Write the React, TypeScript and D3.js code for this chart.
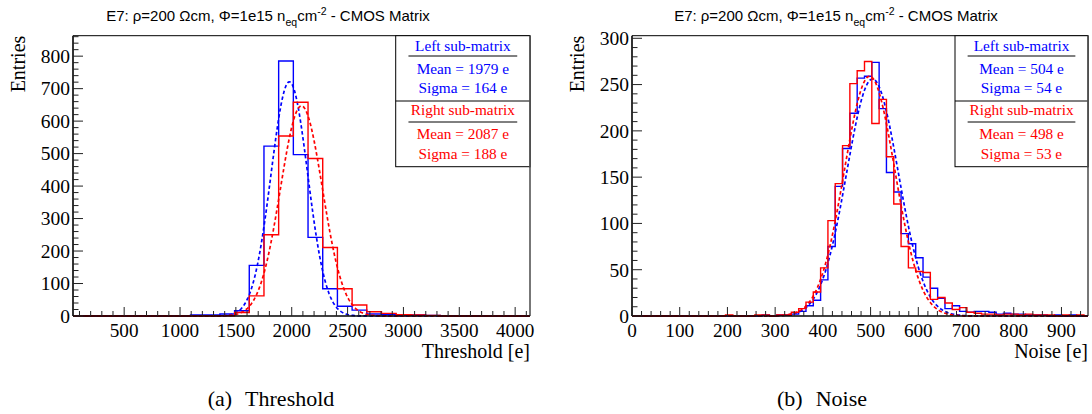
import React from "react";
import * as d3 from "d3";

// ---------- Threshold panel data ----------
const THR_BIN_START = 42;
const THR_BIN_WIDTH = 131.5;
const THR_LEFT_COUNTS = [0, 0, 0, 0, 0, 0, 0, 0, 3, 3, 6, 16, 156, 523, 785, 497, 242, 84, 30, 18, 6, 5, 3, 3, 2, 0, 0, 0, 0, 0, 0];
const THR_RIGHT_COUNTS = [0, 0, 0, 0, 0, 0, 0, 0, 0, 0, 1, 11, 62, 250, 554, 658, 485, 211, 84, 34, 13, 8, 4, 3, 2, 0, 0, 0, 0, 0, 0];
const THR_X_DOMAIN = [42, 4133];
const THR_Y_MAX = 863;
const THR_X_MAJOR = [500, 1000, 1500, 2000, 2500, 3000, 3500, 4000];
const THR_Y_MAJOR = [0, 100, 200, 300, 400, 500, 600, 700, 800];
const THR_FIT_LEFT = { amp: 721, mean: 1979, sigma: 164 };
const THR_FIT_RIGHT = { amp: 647, mean: 2087, sigma: 188 };
const THR_LEGEND = ["Left sub-matrix", "Mean = 1979 e", "Sigma = 164 e", "Right sub-matrix", "Mean = 2087 e", "Sigma = 188 e"];

// ---------- Noise panel data ----------
const NOISE_BIN_START = -3.33;
const NOISE_BIN_WIDTH = 15.33;
const NOISE_LEFT_COUNTS = [
  0, 0, 0, 0, 0, 0, 0, 0, 0, 0, 0, 0, 0, 0, 0, 0, 0, 0, 1, 0, 1, 1,
  2, 5, 11, 17, 39, 75, 140, 181, 219, 257, 259, 274, 224, 155, 134, 89, 78, 63, 42, 30,
  19, 8, 11, 5, 4, 5, 5, 4, 2, 3, 2, 2, 1, 1, 1, 0, 1, 0, 1, 0, 0,
];
const NOISE_RIGHT_COUNTS = [
  0, 0, 0, 0, 0, 0, 0, 0, 0, 0, 0, 0, 0, 1, 0, 0, 0, 1, 1, 0, 1, 1,
  4, 8, 15, 26, 52, 103, 143, 184, 251, 265, 275, 208, 234, 172, 121, 75, 52, 48, 47, 18,
  20, 14, 7, 9, 4, 3, 2, 2, 1, 2, 2, 1, 2, 1, 1, 1, 0, 1, 0, 1, 0,
];
const NOISE_X_DOMAIN = [0, 955.6];
const NOISE_Y_MAX = 302.8;
const NOISE_X_MAJOR = [0, 100, 200, 300, 400, 500, 600, 700, 800, 900];
const NOISE_Y_MAJOR = [0, 50, 100, 150, 200, 250, 300];
const NOISE_FIT_LEFT = { amp: 256, mean: 504, sigma: 54 };
const NOISE_FIT_RIGHT = { amp: 259, mean: 498, sigma: 53 };
const NOISE_LEGEND = ["Left sub-matrix", "Mean = 504 e", "Sigma = 54 e", "Right sub-matrix", "Mean = 498 e", "Sigma = 53 e"];

const BLUE = "#0000ff";
const RED = "#ff0000";
const SERIF = "'Liberation Serif', 'Times New Roman', serif";
const SANS = "'Liberation Sans', Arial, sans-serif";

type Fit = { amp: number; mean: number; sigma: number };

type PanelProps = {
  id: string;
  left: number;
  right: number;
  top: number;
  bottom: number;
  xDomain: number[];
  yMax: number;
  xMajor: number[];
  xMinorStep: number;
  yMajor: number[];
  yMinorStep: number;
  binStart: number;
  binWidth: number;
  leftCounts: number[];
  rightCounts: number[];
  fitLeft: Fit;
  fitRight: Fit;
  legend: string[];
  legendLeft: number;
  xTitle: string;
  titleX: number;
};

function Panel(p: PanelProps) {
  const x = d3.scaleLinear().domain(p.xDomain).range([p.left, p.right]);
  const y = d3.scaleLinear().domain([0, p.yMax]).range([p.bottom, p.top]);

  const stepPath = (counts: number[]) => {
    const pts: [number, number][] = [];
    pts.push([p.binStart, 0]);
    counts.forEach((c, i) => {
      const e0 = p.binStart + i * p.binWidth;
      const e1 = e0 + p.binWidth;
      pts.push([e0, c]);
      pts.push([e1, c]);
    });
    pts.push([p.binStart + counts.length * p.binWidth, 0]);
    return d3.line<[number, number]>().x((d) => x(d[0])).y((d) => y(d[1]))(pts) || "";
  };

  const fitPath = (f: Fit) => {
    const xs = d3.range(p.xDomain[0], p.xDomain[1], (p.xDomain[1] - p.xDomain[0]) / 600).concat([p.xDomain[1]]);
    return (
      d3
        .line<number>()
        .x((v) => x(v))
        .y((v) => y(f.amp * Math.exp(-0.5 * ((v - f.mean) / f.sigma) ** 2)))(xs) || ""
    );
  };

  const xMinor = d3
    .range(Math.ceil(p.xDomain[0] / p.xMinorStep) * p.xMinorStep, p.xDomain[1], p.xMinorStep)
    .filter((v) => !p.xMajor.some((m) => Math.abs(m - v) < 1e-6));
  const yMinor = d3
    .range(0, p.yMax, p.yMinorStep)
    .filter((v) => !p.yMajor.some((m) => Math.abs(m - v) < 1e-6));

  const lgL = p.legendLeft;
  const lgR = p.right;
  const lgC = (lgL + lgR) / 2;
  const lgW = lgR - lgL;
  const lineW = lgW * 0.81;

  return (
    <g>
      <defs>
        <clipPath id={`clip-${p.id}`}>
          <rect x={p.left} y={p.top} width={p.right - p.left} height={p.bottom - p.top + 2} />
        </clipPath>
      </defs>
      {/* histograms and fits */}
      <g clipPath={`url(#clip-${p.id})`}>
        <path d={stepPath(p.leftCounts)} fill="none" stroke={BLUE} strokeWidth={1.4} />
        <path d={fitPath(p.fitLeft)} fill="none" stroke={BLUE} strokeWidth={1.7} strokeDasharray="3.5,2.5" />
        <path d={stepPath(p.rightCounts)} fill="none" stroke={RED} strokeWidth={1.4} />
        <path d={fitPath(p.fitRight)} fill="none" stroke={RED} strokeWidth={1.7} strokeDasharray="3.5,2.5" />
      </g>
      {/* frame */}
      <line x1={p.left} x2={p.right} y1={p.top} y2={p.top} stroke="#000" strokeWidth={1} />
      <line x1={p.right} x2={p.right} y1={p.top} y2={p.bottom} stroke="#555" strokeWidth={1.6} />
      <line x1={p.left} x2={p.left} y1={p.top} y2={p.bottom} stroke="#000" strokeWidth={1.6} />
      <line x1={p.left} x2={p.right} y1={p.bottom} y2={p.bottom} stroke="#000" strokeWidth={1.6} />
      {/* y ticks */}
      {p.yMajor.map((v) => (
        <g key={`ym${v}`}>
          <line x1={p.left} x2={p.left + 10} y1={y(v)} y2={y(v)} stroke="#222" strokeWidth={1} />
          <text x={p.left - 3} y={y(v)} dy="0.35em" textAnchor="end" fontFamily={SERIF} fontSize={19.5} fill="#000">
            {v}
          </text>
        </g>
      ))}
      {yMinor.map((v) => (
        <line key={`yn${v}`} x1={p.left} x2={p.left + 5.5} y1={y(v)} y2={y(v)} stroke="#222" strokeWidth={1} />
      ))}
      {/* x ticks */}
      {p.xMajor.map((v) => (
        <g key={`xm${v}`}>
          <line x1={x(v)} x2={x(v)} y1={p.bottom} y2={p.bottom - 9} stroke="#222" strokeWidth={1} />
          <text x={x(v)} y={p.bottom + 21} textAnchor="middle" fontFamily={SERIF} fontSize={19.2} fill="#000">
            {v}
          </text>
        </g>
      ))}
      {xMinor.map((v) => (
        <line key={`xn${v}`} x1={x(v)} x2={x(v)} y1={p.bottom} y2={p.bottom - 5} stroke="#222" strokeWidth={1} />
      ))}
      {/* axis titles */}
      <text x={p.right} y={p.bottom + 42} textAnchor="end" fontFamily={SERIF} fontSize={20} fill="#000">
        {p.xTitle}
      </text>
      <text
        transform={`translate(${p.left - 48},${p.top}) rotate(-90)`}
        textAnchor="end"
        fontFamily={SERIF}
        fontSize={20}
        fill="#000"
      >
        Entries
      </text>
      {/* title */}
      <text x={p.titleX} y={20.5} textAnchor="middle" fontFamily={SANS} fontSize={15} fill="#000">
        E7: ρ=200 Ωcm, Φ=1e15 n
        <tspan fontSize={10.5} dy={5}>eq</tspan>
        <tspan dy={-5}>cm</tspan>
        <tspan fontSize={10.5} dy={-5.5}>-2</tspan>
        <tspan dy={5.5}> - CMOS Matrix</tspan>
      </text>
      {/* legend */}
      <rect x={lgL} y={35.7} width={lgW} height={131} fill="#fff" stroke="#000" strokeWidth={1} />
      <line x1={lgL} x2={lgR} y1={101} y2={101} stroke="#000" strokeWidth={1} />
      <line x1={lgC - lineW / 2} x2={lgC + lineW / 2} y1={56} y2={56} stroke="#000" strokeWidth={1} />
      <line x1={lgC - lineW / 2} x2={lgC + lineW / 2} y1={122} y2={122} stroke="#000" strokeWidth={1} />
      {[50.8, 74.3, 93.3, 115.2, 139.3, 159].map((yy, i) => (
        <text key={i} x={lgC} y={yy} textAnchor="middle" fontFamily={SERIF} fontSize={15.3} fill={i < 3 ? BLUE : RED}>
          {p.legend[i]}
        </text>
      ))}
      <line x1={p.right} x2={p.right} y1={p.top} y2={167} stroke="#555" strokeWidth={1.6} />
    </g>
  );
}

const CAPTIONS = [
  { label: "(a)", text: "Threshold", cx: 271 },
  { label: "(b)", text: "Noise", cx: 822 },
];

export default function App() {
  return (
    <svg
      width={1092}
      height={414}
      style={{ position: "absolute", left: 0, top: 0, background: "#fff" }}
      xmlns="http://www.w3.org/2000/svg"
    >
      <rect x={0} y={0} width={1092} height={414} fill="#fff" />
      <Panel
        id="thr"
        left={73}
        right={530}
        top={35.7}
        bottom={316}
        xDomain={THR_X_DOMAIN}
        yMax={THR_Y_MAX}
        xMajor={THR_X_MAJOR}
        xMinorStep={100}
        yMajor={THR_Y_MAJOR}
        yMinorStep={20}
        binStart={THR_BIN_START}
        binWidth={THR_BIN_WIDTH}
        leftCounts={THR_LEFT_COUNTS}
        rightCounts={THR_RIGHT_COUNTS}
        fitLeft={THR_FIT_LEFT}
        fitRight={THR_FIT_RIGHT}
        legend={THR_LEGEND}
        legendLeft={395.7}
        xTitle="Threshold [e]"
        titleX={268}
      />
      <Panel
        id="noise"
        left={632}
        right={1088}
        top={35.7}
        bottom={316}
        xDomain={NOISE_X_DOMAIN}
        yMax={NOISE_Y_MAX}
        xMajor={NOISE_X_MAJOR}
        xMinorStep={20}
        yMajor={NOISE_Y_MAJOR}
        yMinorStep={10}
        binStart={NOISE_BIN_START}
        binWidth={NOISE_BIN_WIDTH}
        leftCounts={NOISE_LEFT_COUNTS}
        rightCounts={NOISE_RIGHT_COUNTS}
        fitLeft={NOISE_FIT_LEFT}
        fitRight={NOISE_FIT_RIGHT}
        legend={NOISE_LEGEND}
        legendLeft={955}
        xTitle="Noise [e]"
        titleX={836}
      />
      {CAPTIONS.map((c) => (
        <text key={c.label} x={c.cx} y={406} textAnchor="middle" fontFamily={SERIF} fontSize={22} fill="#000">
          {c.label}
          <tspan dx={13}>{c.text}</tspan>
        </text>
      ))}
    </svg>
  );
}
